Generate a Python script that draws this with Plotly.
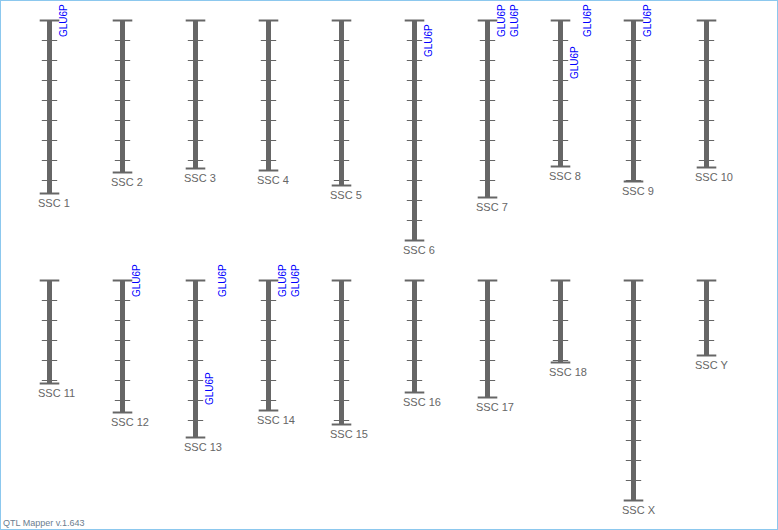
import plotly.graph_objects as go

# ---------------- data ----------------
row1_names = ["SSC 1", "SSC 2", "SSC 3", "SSC 4", "SSC 5", "SSC 6", "SSC 7", "SSC 8", "SSC 9", "SSC 10"]
row1_lengths = [173, 152, 148, 150, 165, 220, 177, 146, 161, 147]
row2_names = ["SSC 11", "SSC 12", "SSC 13", "SSC 14", "SSC 15", "SSC 16", "SSC 17", "SSC 18", "SSC X", "SSC Y"]
row2_lengths = [103, 132, 157, 130, 144, 112, 117, 82, 220, 75]

qtl_chrom = ["SSC 1", "SSC 6", "SSC 7", "SSC 7", "SSC 8", "SSC 8", "SSC 9",
             "SSC 12", "SSC 13", "SSC 13", "SSC 14", "SSC 14"]
qtl_pos = [0, 20, 0, 0, 42, 0, 0, 0, 108, 0, 0, 0]
qtl_names = ["GLU6P"] * 12

tick_step = 20
footer = "QTL Mapper v.1.643"

# ---------------- style ----------------
BAR = "#666666"
TXT = "#666666"
FONT = "Liberation Sans, Arial, sans-serif"

fig = go.Figure()

rows = [(row1_names, row1_lengths, "y"), (row2_names, row2_lengths, "y2")]
chrom_loc = {}
for names, lengths, yref in rows:
    bx, by, tx, ty, cx, cy = [], [], [], [], [], []
    for i, (n, L) in enumerate(zip(names, lengths)):
        chrom_loc[n] = (i, yref)
        bx += [i, i, None]
        by += [0, L, None]
        t = tick_step
        while t < L:
            tx.append(i)
            ty.append(t)
            t += tick_step
        cx += [i, i]
        cy += [0, L]
    fig.add_trace(go.Scatter(x=bx, y=by, mode="lines", yaxis=yref,
                             line=dict(color=BAR, width=5), hoverinfo="skip"))
    fig.add_trace(go.Scatter(x=tx, y=ty, mode="markers", yaxis=yref,
                             marker=dict(symbol="line-ew", size=11,
                                         line=dict(color=BAR, width=1)),
                             hoverinfo="skip"))
    fig.add_trace(go.Scatter(x=cx, y=cy, mode="markers", yaxis=yref,
                             marker=dict(symbol="line-ew", size=14,
                                         line=dict(color=BAR, width=2)),
                             hoverinfo="skip"))
    for i, (n, L) in enumerate(zip(names, lengths)):
        fig.add_annotation(x=i, y=L, xref="x", yref=yref, text=n, showarrow=False,
                           xanchor="left", yanchor="top", xshift=-14, yshift=-1,
                           font=dict(family=FONT, size=11, color=TXT))

# QTL labels
col_count = {}
for c, p, q in zip(qtl_chrom, qtl_pos, qtl_names):
    i, yref = chrom_loc[c]
    col = col_count.get(c, 0)
    col_count[c] = col + 1
    fig.add_annotation(x=i, y=p, xref="x", yref=yref, text=q, showarrow=False,
                       textangle=-90, xanchor="center", yanchor="middle",
                       xshift=14 + 13 * col,
                       font=dict(family=FONT, size=10, color="#0000ff"))

fig.add_annotation(x=0, y=0, xref="paper", yref="paper", text=footer, showarrow=False,
                   xanchor="left", yanchor="bottom", xshift=1, yshift=0,
                   font=dict(family=FONT, size=9, color="#6b7d8f"))

fig.add_shape(type="rect", xref="paper", yref="paper", x0=0, y0=0, x1=1, y1=1,
              line=dict(color="#8cc8ee", width=2))

fig.update_layout(
    width=778, height=530,
    margin=dict(l=0, r=0, t=0, b=0),
    paper_bgcolor="white", plot_bgcolor="white",
    showlegend=False,
    xaxis=dict(range=[-49.5 / 73, (778 - 49.5) / 73], visible=False, fixedrange=True),
    yaxis=dict(range=[509.5, -20.5], visible=False, fixedrange=True),
    yaxis2=dict(range=[249.5, -280.5], visible=False, overlaying="y", fixedrange=True),
)

fig.write_html("out.html", config={"displayModeBar": False},
               post_script="document.body.style.margin='0';")
